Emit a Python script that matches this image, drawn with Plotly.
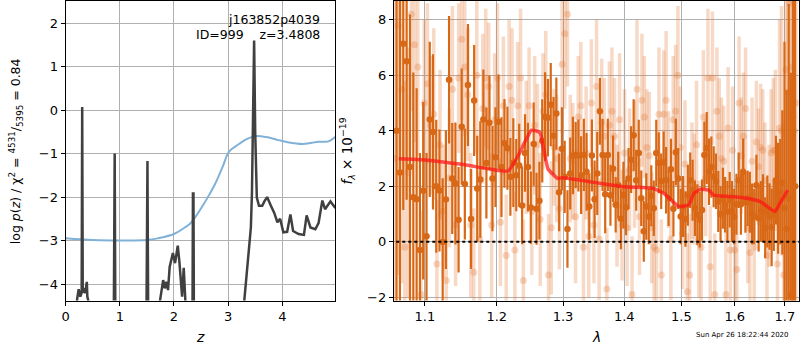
import numpy as np
import plotly.graph_objects as go

# ---------------- left panel: redshift probability ----------------
z_grid = [0.00, 0.20, 0.21, 0.24, 0.27, 0.295, 0.305, 0.315, 0.33, 0.36, 0.39, 0.40, 0.42, 0.44,
          0.87, 0.895, 0.905, 0.93,
          1.47, 1.50, 1.51, 1.54,
          1.72, 1.74, 1.80, 1.83, 1.86, 1.89, 1.92, 1.98, 2.02, 2.07, 2.10, 2.13, 2.15, 2.18, 2.20, 2.21, 2.23,
          2.33, 2.350, 2.360, 2.38,
          3.25, 3.30, 3.39, 3.42, 3.44, 3.462, 3.470, 3.480, 3.50, 3.52, 3.53, 3.57, 3.63, 3.67, 3.72,
          3.79, 3.85, 3.91, 3.96, 4.02, 4.09, 4.15, 4.20, 4.30, 4.40, 4.45, 4.52, 4.61, 4.67, 4.74,
          4.79, 4.89, 4.98]
log_pz = [-12.0, -9.0, -4.36, -4.12, -4.29, -4.2, 0.07, -4.2, -4.10, -4.21, -3.95, -4.29, -4.40, -9.0,
          -9.0, -1.00, -1.00, -9.0,
          -9.0, -1.17, -1.17, -9.0,
          -9.0, -4.40, -3.91, -4.10, -3.95, -4.14, -3.61, -3.29, -3.52, -3.12, -3.49, -3.95, -4.29, -3.63, -4.29, -4.38, -9.0,
          -9.0, -1.92, -1.92, -9.0,
          -9.0, -4.36, -3.15, -2.70, -1.90, 1.00, 1.60, 1.60, -0.50, -1.90, -2.01, -2.20, -2.20, -2.10, -2.00,
          -2.20, -2.36, -2.58, -2.50, -2.81, -2.80, -2.40, -2.78, -2.85, -2.87, -2.42, -2.70, -2.74, -2.60, -2.08,
          -2.28, -2.10, -2.25]

z_chi = [0.0, 0.5, 1.0, 1.5, 1.7, 2.0, 2.2, 2.29, 2.4, 2.53, 2.65, 2.77, 2.9, 3.02, 3.2, 3.35, 3.51,
         3.7, 3.9, 4.1, 4.38, 4.55, 4.69, 4.85, 4.98]
chi_scaled = [-2.95, -2.99, -3.00, -2.99, -2.95, -2.85, -2.70, -2.62, -2.45, -2.20, -1.95, -1.67, -1.30,
              -0.95, -0.78, -0.66, -0.60, -0.62, -0.68, -0.74, -0.78, -0.75, -0.73, -0.72, -0.61]

# ---------------- right panel: spectrum ----------------
lam_range_a = (1.063, 1.721)
flux_a = [4.0, 2.5,
          7.14, 6.51, 2.69, 1.60, 1.53, -0.30, 1.84, 0.20, 4.41, 3.96, 2.00, 1.85, -0.01, 1.52, 5.84,
          2.28, 2.10, 0.79, 4.15, 2.08, 5.65, 0.82, 5.09, 1.92, 2.24, 4.41, 2.84, 4.29, 2.28, 3.05,
          4.33, 2.69, 3.55,
          3.37, 2.34, 2.85, 2.40, 2.75, 1.31, 3.20, 2.69, 1.23, 3.52, 1.19, 1.48, 3.64, 4.51, 4.47,
          4.94, 3.82, 4.62, 1.78, 3.35, 2.34, 0.46, 2.46, 3.11, 3.13, 3.11, 2.40, 3.13, 2.52, 1.27,
          3.11, 1.53, 2.46, 4.70, 3.13, 1.71,
          3.13, 1.68, 2.63, 1.33, 2.04, 0.83, 1.68, 1.23, 2.28, 2.96, 3.84, 2.22, 3.20, 1.57, 0.38,
          1.27, 0.91, 1.66, 1.21, 3.20, 2.85, 2.18, 2.87, 2.22, 1.57, 2.61, 1.19, 3.23, 2.28, 0.91,
          1.27, 0.82, 1.68, 2.22, 1.86, 1.21, 0.97, 0.79, 1.14, 3.13, 3.38,
          2.52, 2.69, 2.34, 2.18, 1.45, 1.00, 1.57, 1.33, 1.09, 1.51, 1.09, 0.91, 1.35, 2.22, 1.35,
          2.52, 1.42, 1.57, 1.42, 1.00, 0.91, 2.04, 0.85, 1.09, 1.23, 0.50, 1.09, 0.91, 0.52, 0.97,
          2.22, 1.57, 1.80, 2.14, 1.21, 0.47, 1.57, -1.91,
          4.5, 2.0]
err_a = [9.0, 9.0,
         6.0, 5.0, 5.5, 4.5, 4.0, 3.5, 3.2, 3.0, 2.8, 2.8, 2.4, 2.2, 2.3, 2.5, 2.3,
         2.0, 2.2, 1.9, 2.1, 2.0, 2.2, 1.8, 2.0, 1.9, 2.1, 1.8, 2.0, 1.7, 1.9, 1.8,
         1.7, 1.8, 1.6,
         1.5, 1.4, 1.6, 1.3, 1.5, 1.4, 1.4, 1.6, 1.3, 1.5, 1.3, 1.4, 1.5, 1.6, 1.4,
         1.5, 1.4, 1.3, 1.4, 1.5, 1.3, 1.4, 1.3, 1.4, 1.2, 1.3, 1.4, 1.3, 1.4, 1.2,
         1.3, 1.4, 1.5, 1.2, 1.3, 1.4,
         1.3, 1.1, 1.2, 1.0, 1.2, 1.1, 1.2, 1.0, 1.1, 1.2, 1.3, 1.1, 1.2, 1.0, 1.1,
         1.2, 1.0, 1.1, 1.0, 1.2, 1.1, 1.0, 1.1, 1.2, 1.0, 1.1, 1.0, 1.2, 1.1, 1.0,
         1.1, 1.0, 1.1, 1.0, 1.1, 1.0, 1.1, 1.0, 1.1, 1.2, 1.3,
         1.2, 1.1, 1.1, 1.0, 1.1, 1.0, 1.1, 1.0, 1.1, 1.0, 1.1, 1.0, 1.1, 1.0, 1.1,
         1.2, 1.1, 1.0, 1.1, 1.1, 1.0, 1.1, 1.2, 1.1, 1.2, 1.1, 1.3, 1.2, 1.4, 1.3,
         1.6, 2.0, 1.9, 2.6, 6.0, 5.0, 7.0, 8.0,
         9.0, 9.0]

lam_range_b = (1.061, 1.723)
flux_b = [3.0, 7.8, 5.5, -0.2, 2.5, 8.2, 7.1, 6.3, -1.9, 5.0,
          5.7, 4.2, 4.6, -0.8, 3.5, 1.1, -1.4, 2.3, 5.5, 0.6, 5.9, 7.3, 6.3, 5.3, 0.6, -1.1, 6.0,
          0.1, 4.8, 5.9, 5.6, 0.6, 4.4, 5.9, 0.7,
          4.9, -0.5, 5.6, 5.1, -0.3, 4.9, 5.9, -1.4, 3.4, 4.9, 1.1, 4.2, 3.5, 0.8, 4.7, 5.3, -1.2,
          0.5, 3.4, 3.0, 1.2, 6.4, 7.5, 8.2, 3.0, 2.9, 0.9, 4.5, 4.9, -0.2, 3.2, 0.2, 5.0, 0.6,
          5.6, 0.1, 4.3, 3.8, -1.7, 4.2,
          4.7, 3.8, 1.3, 4.4, 0.6, 3.2, 0.5, 2.6, -1.9, 2.8, 5.5, 0.9, 5.1, 4.5, 3.4, 3.1, 0.5,
          -0.2, -0.3, 4.6, -1.2, 4.6, 5.1, 2.6, 0.1, 4.4, 4.7, 6.0, 3.4, 0.3, 2.8, -1.8, -1.2,
          2.2, 1.9, 3.5, 0.1, -0.2, 4.5, 2.3, 5.9, -0.9,
          5.9, -1.9, 4.7, 3.8, 3.0, 2.9, -1.9, 4.1, -0.3, 3.3, -0.3, -1.0, 5.0, 3.1, 3.8, 4.8,
          0.5, -0.4, 2.9, -0.2, 3.6, 2.7, 3.4, 3.3, 2.2, -0.5, 1.3, 3.2, 3.3, 3.3, -0.8, 4.1,
          4.0, -1.2, 6.2, 5.4, 8.6, 6.3, 4.0, 5.0]
err_b = [9.0, 9.0, 7.0, 6.0, 4.5, 3.5, 3.5, 3.2, 3.0, 3.0,
         2.9, 2.5, 3.1, 2.3, 2.7, 2.4, 2.8, 2.5, 3.0, 2.2, 2.7, 2.9, 2.5, 2.4, 2.6, 2.3, 2.8,
         2.4, 2.7, 2.5, 2.3, 2.6, 2.4, 2.7, 2.3,
         2.5, 2.2, 2.4, 2.6, 2.1, 2.3, 2.5, 2.2, 2.4, 2.1, 2.3, 2.5, 2.2, 2.4, 2.1, 2.3, 2.2,
         2.4, 2.1, 2.3, 2.2, 2.5, 2.7, 2.6, 2.3, 2.1, 2.4, 2.2, 2.3, 2.1, 2.4, 2.2, 2.3, 2.1,
         2.4, 2.2, 2.3, 2.1, 2.2, 2.3,
         2.3, 2.1, 2.2, 2.4, 2.0, 2.3, 2.1, 2.2, 2.1, 2.3, 2.5, 2.1, 2.4, 2.2, 2.1, 2.3, 2.0,
         2.2, 2.1, 2.4, 2.0, 2.3, 2.5, 2.1, 2.2, 2.3, 2.4, 2.5, 2.2, 2.0, 2.3, 2.1, 2.2,
         2.1, 2.0, 2.3, 2.1, 2.2, 2.4, 2.1, 2.5, 2.2,
         2.4, 2.2, 2.3, 2.1, 2.2, 2.0, 2.3, 2.2, 2.1, 2.3, 2.0, 2.2, 2.4, 2.1, 2.3, 2.2,
         2.0, 2.1, 2.3, 2.0, 2.2, 2.1, 2.3, 2.2, 2.1, 2.0, 2.2, 2.3, 2.6, 2.9, 3.4, 3.9,
         4.5, 5.5, 6.5, 7.5, 8.5, 8.5, 9.0, 9.0]

lam_model = [1.066, 1.10, 1.15, 1.1925, 1.2167, 1.2315, 1.2515, 1.264, 1.2766, 1.2918, 1.30, 1.35,
             1.40, 1.45, 1.469, 1.4956, 1.5136, 1.5227, 1.535, 1.5504, 1.5596, 1.591, 1.623, 1.65,
             1.68, 1.69, 1.706]
flux_model = [2.99, 2.95, 2.79, 2.61, 2.55, 3.11, 4.02, 3.94, 2.63, 2.28, 2.31, 2.14, 1.98, 1.92,
              1.74, 1.27, 1.33, 1.74, 1.89, 1.86, 1.68, 1.63, 1.57, 1.45, 1.09, 1.39, 1.86]

lam_ticks = [1.1, 1.2, 1.3, 1.4, 1.5, 1.6, 1.7]

# wavelength sampling of the two spectra
lam_a = np.linspace(lam_range_a[0], lam_range_a[1], len(flux_a))
lam_b = np.linspace(lam_range_b[0], lam_range_b[1], len(flux_b))

W, H = 800, 350
FONT = "DejaVu Sans"
DARK = "rgb(216,104,22)"
LIGHT = "rgba(226,120,50,0.28)"


def px(x):
    return x / W


def py(y):
    return 1 - y / H


fig = go.Figure()

fig.add_trace(go.Scatter(x=z_chi, y=chi_scaled, mode="lines",
                         line=dict(color="rgb(128,177,215)", width=2, shape="spline"),
                         xaxis="x", yaxis="y", showlegend=False))
fig.add_trace(go.Scatter(x=z_grid, y=log_pz, mode="lines", line=dict(color="rgb(64,64,64)", width=2.5),
                         xaxis="x", yaxis="y", showlegend=False))

fig.add_trace(go.Scatter(x=lam_b, y=flux_b, mode="markers",
                         marker=dict(color=LIGHT, size=7),
                         error_y=dict(type="data", array=err_b, color=LIGHT, thickness=3.5, width=0),
                         xaxis="x2", yaxis="y2", showlegend=False))
fig.add_trace(go.Scatter(x=lam_a, y=flux_a, mode="markers",
                         marker=dict(color=DARK, size=6.5),
                         error_y=dict(type="data", array=err_a, color=DARK, thickness=2.2, width=0),
                         xaxis="x2", yaxis="y2", showlegend=False))
fig.add_trace(go.Scatter(x=lam_model, y=flux_model, mode="lines",
                         line=dict(color="rgba(255,20,20,0.72)", width=3.5, shape="spline", smoothing=0.4),
                         xaxis="x2", yaxis="y2", showlegend=False))
fig.add_trace(go.Scatter(x=[1.055, 1.735], y=[0, 0], mode="lines",
                         line=dict(color="black", width=2, dash="3px,3px"),
                         xaxis="x2", yaxis="y2", showlegend=False))

axis_style = dict(showline=True, linecolor="black", linewidth=1.3, mirror=True,
                  ticks="outside", ticklen=4, tickcolor="black", tickwidth=1,
                  showgrid=True, gridcolor="#b0b0b0", gridwidth=1, zeroline=False,
                  tickfont=dict(family=FONT, size=13, color="black"))

fig.update_layout(
    width=W, height=H, margin=dict(l=0, r=0, t=0, b=0),
    paper_bgcolor="white", plot_bgcolor="white",
    xaxis=dict(domain=[px(62), px(333)], range=[0, 4.98], tickvals=[0, 1, 2, 3, 4], anchor="y",
               **axis_style),
    yaxis=dict(domain=[py(304), py(1)], range=[-4.38, 2.51], tickvals=[-4, -3, -2, -1, 0, 1, 2],
               anchor="x", **axis_style),
    xaxis2=dict(domain=[px(392), px(799)], type="log", range=[np.log10(1.0598), np.log10(1.7293)],
                tickvals=lam_ticks, ticktext=[f"{v:.1f}" for v in lam_ticks], anchor="y2",
                **axis_style),
    yaxis2=dict(domain=[py(304), py(1)], range=[-2.12, 8.68], tickvals=[-2, 0, 2, 4, 6, 8],
                anchor="x2", **axis_style),
)

annotations = [
    dict(text="j163852p4039", x=px(320), y=py(20), xanchor="right", yanchor="middle",
         font=dict(family=FONT, size=12.5, color="black")),
    dict(text="ID=999\u00a0\u00a0\u00a0\u00a0z=3.4808", x=px(320), y=py(35), xanchor="right",
         yanchor="middle", font=dict(family=FONT, size=12.5, color="black")),
    dict(text="<i>z</i>", x=px(197), y=py(341), xanchor="center", yanchor="middle",
         font=dict(family=FONT, size=14, color="black")),
    dict(text="<i>λ</i>", x=px(595), y=py(341), xanchor="center", yanchor="middle",
         font=dict(family=FONT, size=14, color="black")),
    dict(text="log <i>p</i>(<i>z</i>) / χ<sup>2</sup> = <sup>4531</sup>/<sub>5395</sub> = 0.84",
         x=px(12), y=py(153), xanchor="center", yanchor="middle", textangle=-90,
         font=dict(family=FONT, size=12.5, color="black")),
    dict(text="<i>f</i><sub><i>λ</i></sub> × 10<sup>−19</sup>", x=px(345), y=py(153),
         xanchor="center", yanchor="middle", textangle=-90,
         font=dict(family=FONT, size=13.5, color="black")),
    dict(text="Sun Apr 26 18:22:44 2020", x=px(742), y=py(339), xanchor="center", yanchor="middle",
         font=dict(family=FONT, size=7, color="black")),
]
for a in annotations:
    a.update(xref="paper", yref="paper", showarrow=False)
fig.update_layout(annotations=annotations)

fig.write_html("out.html")
